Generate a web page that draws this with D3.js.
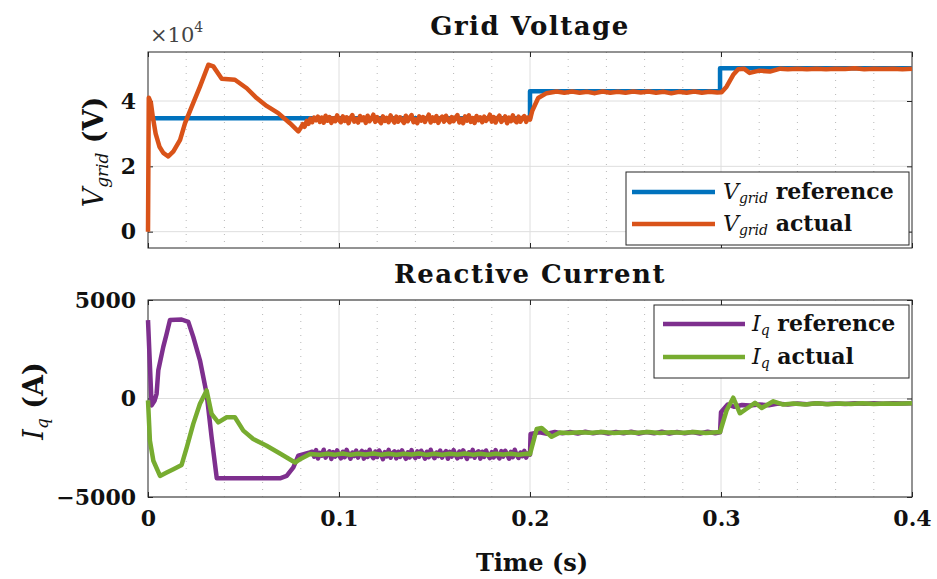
<!DOCTYPE html>
<html>
<head>
<meta charset="utf-8">
<script src="https://cdn.jsdelivr.net/npm/d3@7"></script>
<style>
  body { margin: 0; background: #fff; }
  svg { display: block; }
  text { font-family: "DejaVu Serif", serif; }
</style>
</head>
<body>
<svg id="fig" width="937" height="579"></svg>
<script>
// ---- data (time in s, voltage in V, current in A) ----
var vReference = [[0, 34700], [0.2, 34700], [0.2, 43000], [0.2995, 43000], [0.2995, 50000], [0.4, 50000]];

var vActual = [
  [0, 0], [0.0004, 41000], [0.0015, 39500], [0.0025, 35200], [0.004, 30000], [0.006, 26000],
  [0.008, 24100], [0.0106, 23000], [0.0133, 24600], [0.0168, 28100], [0.0194, 33200], [0.0237, 39400],
  [0.0272, 44400], [0.0316, 51100], [0.0342, 50600], [0.0386, 46800], [0.0455, 46500], [0.0517, 43900],
  [0.0569, 40900], [0.0621, 38500], [0.0682, 36300], [0.0743, 33200], [0.0787, 30700], [0.080, 31800],
  [0.081, 32900], [0.082, 32100], [0.0831, 33900], [0.084, 33000], [0.085, 34600], [0.086, 33500], [0.087, 34900],
  [0.088, 34100], [0.089, 35200], [0.090, 33600], [0.091, 34900], [0.092, 33400], [0.093, 35500], [0.094, 34000], [0.095, 35100], [0.096, 33300], [0.097, 34700],
  [0.098, 33800], [0.099, 35600], [0.100, 34200], [0.101, 33500], [0.102, 35300], [0.103, 33900], [0.104, 35000], [0.105, 33200], [0.106, 34800], [0.107, 35700],
  [0.108, 33700], [0.109, 34500], [0.110, 33400], [0.111, 35400], [0.112, 34100], [0.113, 35000], [0.114, 33300], [0.115, 35500], [0.116, 33800], [0.117, 34600],
  [0.118, 35800], [0.119, 33600], [0.120, 35100], [0.121, 34000], [0.122, 33200], [0.123, 35300], [0.124, 33900], [0.125, 34800], [0.126, 33500], [0.127, 35600],
  [0.128, 34300], [0.129, 33400], [0.130, 35200], [0.131, 33700], [0.132, 35000], [0.133, 34100], [0.134, 33300], [0.135, 35500], [0.136, 33800], [0.137, 34900],
  [0.138, 35700], [0.139, 33500], [0.140, 34400], [0.141, 33200], [0.142, 35300], [0.143, 34000], [0.144, 35100], [0.145, 33600], [0.146, 34700], [0.147, 35800],
  [0.148, 33400], [0.149, 35000], [0.150, 33900], [0.151, 35400], [0.152, 33300], [0.153, 34600], [0.154, 35200], [0.155, 33700], [0.156, 35500], [0.157, 34200],
  [0.158, 33500], [0.159, 35100], [0.160, 33800], [0.161, 34900], [0.162, 35700], [0.163, 33400], [0.164, 34500], [0.165, 33200], [0.166, 35300], [0.167, 34000],
  [0.168, 35600], [0.169, 33600], [0.170, 34800], [0.171, 33300], [0.172, 35400], [0.173, 34100], [0.174, 35000], [0.175, 33500], [0.176, 35200], [0.177, 33900],
  [0.178, 34600], [0.179, 35800], [0.180, 33700], [0.181, 35100], [0.182, 33400], [0.183, 34700], [0.184, 35500], [0.185, 33600], [0.186, 34300], [0.187, 35300],
  [0.188, 33200], [0.189, 34900], [0.190, 33800], [0.191, 35600], [0.192, 34000], [0.193, 33500], [0.194, 35200], [0.195, 33700], [0.196, 34800], [0.197, 35400],
  [0.198, 33600], [0.199, 34900], [0.2, 34300],
  [0.2012, 37000], [0.2043, 40900], [0.2087, 42400], [0.214, 42900],
  [0.218, 42500], [0.222, 42900], [0.226, 42500], [0.230, 42800], [0.234, 42400], [0.238, 42900],
  [0.242, 42500], [0.246, 42800], [0.250, 42500], [0.254, 42900], [0.258, 42600], [0.262, 42900],
  [0.266, 42500], [0.270, 42800], [0.274, 42400], [0.278, 42800], [0.282, 42500], [0.286, 42900],
  [0.290, 42500], [0.294, 42800], [0.298, 42600],
  [0.3003, 42700], [0.3029, 44400], [0.3064, 48000], [0.309, 49700], [0.312, 49900], [0.315, 48600],
  [0.32, 49300], [0.3256, 49000], [0.331, 49900],
  [0.335, 49700], [0.340, 49900], [0.345, 49700], [0.350, 49900], [0.355, 49700], [0.360, 49900],
  [0.365, 49800], [0.370, 50000], [0.375, 49700], [0.380, 49900], [0.385, 49800], [0.390, 49900],
  [0.395, 49700], [0.4, 49900]
];

var iqReference = [
  [0, 3980], [0.0019, -350], [0.0035, -100], [0.0045, 240], [0.0054, 1430], [0.008, 2620],
  [0.0098, 3300], [0.0115, 3980], [0.0176, 4010], [0.0211, 3890], [0.0237, 3130], [0.0272, 1940],
  [0.0307, 240], [0.0333, -1970], [0.036, -4050], [0.0691, -4050], [0.0726, -3930], [0.0761, -3500],
  [0.0787, -2900], [0.0848, -2740],
  [0.086, -2700], [0.087, -2950], [0.088, -2620], [0.089, -3050], [0.090, -2760], [0.091, -2900], [0.092, -2600], [0.093, -3000], [0.094, -2800], [0.095, -2680],
  [0.096, -3070], [0.097, -2720], [0.098, -2950], [0.099, -2630], [0.100, -2880], [0.101, -3040], [0.102, -2700], [0.103, -2980], [0.104, -2610], [0.105, -2850],
  [0.106, -3060], [0.107, -2740], [0.108, -2920], [0.109, -2640], [0.110, -3000], [0.111, -2780], [0.112, -2660], [0.113, -3050], [0.114, -2710], [0.115, -2960],
  [0.116, -2600], [0.117, -2890], [0.118, -3030], [0.119, -2690], [0.120, -2970], [0.121, -2640], [0.122, -2830], [0.123, -3080], [0.124, -2720], [0.125, -2940],
  [0.126, -2610], [0.127, -3010], [0.128, -2770], [0.129, -2680], [0.130, -3040], [0.131, -2700], [0.132, -2960], [0.133, -2630], [0.134, -2870], [0.135, -3060],
  [0.136, -2730], [0.137, -2990], [0.138, -2620], [0.139, -2900], [0.140, -3020], [0.141, -2680], [0.142, -2950], [0.143, -2650], [0.144, -2810], [0.145, -3050],
  [0.146, -2700], [0.147, -2980], [0.148, -2600], [0.149, -2880], [0.150, -3030], [0.151, -2740], [0.152, -2920], [0.153, -2640], [0.154, -3000], [0.155, -2790],
  [0.156, -2670], [0.157, -3060], [0.158, -2710], [0.159, -2950], [0.160, -2620], [0.161, -2860], [0.162, -3040], [0.163, -2690], [0.164, -2970], [0.165, -2630],
  [0.166, -2840], [0.167, -3070], [0.168, -2730], [0.169, -2930], [0.170, -2610], [0.171, -3010], [0.172, -2760], [0.173, -2680], [0.174, -3050], [0.175, -2700],
  [0.176, -2960], [0.177, -2640], [0.178, -2880], [0.179, -3030], [0.180, -2720], [0.181, -2990], [0.182, -2620], [0.183, -2900], [0.184, -3040], [0.185, -2670],
  [0.186, -2950], [0.187, -2650], [0.188, -2820], [0.189, -3060], [0.190, -2710], [0.191, -2980], [0.192, -2600], [0.193, -2870], [0.194, -3020], [0.195, -2740],
  [0.196, -2930], [0.197, -2660], [0.198, -3000], [0.199, -2780], [0.2, -2850],
  [0.2003, -1800], [0.205, -1710], [0.209, -1790], [0.213, -1700], [0.217, -1770], [0.221, -1700],
  [0.225, -1780], [0.229, -1690], [0.233, -1770], [0.237, -1700], [0.241, -1780], [0.245, -1700],
  [0.249, -1760], [0.253, -1690], [0.257, -1780], [0.261, -1700], [0.265, -1770], [0.269, -1690],
  [0.273, -1780], [0.277, -1700], [0.281, -1770], [0.285, -1700], [0.289, -1780], [0.293, -1690],
  [0.297, -1760], [0.2995, -1720],
  [0.3, -700], [0.3035, -300], [0.307, -420], [0.311, -330], [0.315, -350], [0.32, -300],
  [0.325, -340], [0.33, -260], [0.335, -300], [0.34, -250], [0.345, -290], [0.35, -240],
  [0.355, -280], [0.36, -250], [0.365, -280], [0.37, -240], [0.375, -270], [0.38, -240],
  [0.385, -270], [0.39, -240], [0.395, -260], [0.4, -240]
];

var iqActual = [
  [0, -100], [0.001, -2140], [0.0028, -3160], [0.0063, -3930], [0.0098, -3760], [0.0133, -3590],
  [0.0176, -3370], [0.0203, -2480], [0.0237, -1290], [0.0272, -270], [0.0307, 410], [0.0333, -780],
  [0.0368, -1210], [0.0412, -950], [0.0455, -950], [0.0499, -1630], [0.0551, -2060], [0.0621, -2400],
  [0.0691, -2790], [0.0761, -3200], [0.077, -3250], [0.0796, -3080], [0.0848, -2820],
  [0.090, -2860], [0.094, -2800], [0.098, -2850], [0.102, -2790], [0.106, -2860], [0.110, -2800],
  [0.114, -2840], [0.118, -2790], [0.122, -2850], [0.126, -2800], [0.130, -2860], [0.134, -2800],
  [0.138, -2840], [0.142, -2790], [0.146, -2860], [0.150, -2800], [0.154, -2850], [0.158, -2800],
  [0.162, -2840], [0.166, -2790], [0.170, -2850], [0.174, -2800], [0.178, -2860], [0.182, -2800],
  [0.186, -2840], [0.190, -2800], [0.194, -2850], [0.198, -2810], [0.2, -2830],
  [0.2035, -1550], [0.2061, -1500], [0.2113, -1940], [0.2157, -1720],
  [0.22, -1750], [0.226, -1710], [0.232, -1740], [0.238, -1700], [0.244, -1750], [0.250, -1710],
  [0.256, -1740], [0.262, -1700], [0.268, -1750], [0.274, -1710], [0.280, -1740], [0.286, -1700],
  [0.292, -1750], [0.2995, -1700],
  [0.3029, -610], [0.3064, 40], [0.3099, -750], [0.3134, -520], [0.3178, -220], [0.3213, -480],
  [0.3274, -140], [0.3326, -310], [0.338, -250], [0.344, -300], [0.35, -240], [0.356, -290],
  [0.362, -250], [0.368, -280], [0.374, -240], [0.38, -280], [0.386, -250], [0.392, -270], [0.4, -240]
];

var timeTicks = [0, 0.1, 0.2, 0.3, 0.4];
var timeMinorTicks = [0.02, 0.04, 0.06, 0.08, 0.12, 0.14, 0.16, 0.18, 0.22, 0.24, 0.26, 0.28, 0.32, 0.34, 0.36, 0.38];
var vTicks = [0, 20000, 40000];
var iqTicks = [-5000, 0, 5000];

// ---- layout ----
var svg = d3.select('#fig');
var left = 148, right = 912;
var axisColor = '#262626';

var x = d3.scaleLinear().domain([0, 0.4]).range([left, right]);
var yV = d3.scaleLinear().domain([-5000, 55000]).range([248, 52]);
var yI = d3.scaleLinear().domain([-5000, 5000]).range([497, 300]);

function drawPanel(y, opts) {
  var top = y.range()[1], bottom = y.range()[0];
  var g = svg.append('g');

  // minor dotted grid (time only)
  g.selectAll('line.minor').data(timeMinorTicks).enter().append('line')
    .attr('x1', d => x(d)).attr('x2', d => x(d))
    .attr('y1', top).attr('y2', bottom)
    .attr('stroke', '#b8b8b8').attr('stroke-width', 1)
    .attr('stroke-dasharray', '1,6');

  // major grid
  g.selectAll('line.vmaj').data(timeTicks.slice(1, -1)).enter().append('line')
    .attr('x1', d => x(d)).attr('x2', d => x(d))
    .attr('y1', top).attr('y2', bottom)
    .attr('stroke', '#dedede').attr('stroke-width', 1);
  g.selectAll('line.hmaj').data(opts.yTicks).enter().append('line')
    .attr('x1', left).attr('x2', right)
    .attr('y1', d => y(d)).attr('y2', d => y(d))
    .attr('stroke', '#dedede').attr('stroke-width', 1);

  // ticks on all four sides, pointing in
  var ax = [
    d3.axisLeft(y).tickValues(opts.yTicks).tickFormat(opts.yFormat).tickSize(-5).tickPadding(12),
    d3.axisRight(y).tickValues(opts.yTicks).tickFormat('').tickSize(-5),
    d3.axisTop(x).tickValues(timeTicks).tickFormat('').tickSize(-5),
    d3.axisBottom(x).tickValues(timeTicks).tickFormat(opts.xLabels ? d3.format('') : '').tickSize(-5).tickPadding(13)
  ];
  var pos = ['translate(' + left + ',0)', 'translate(' + right + ',0)',
             'translate(0,' + top + ')', 'translate(0,' + bottom + ')'];
  ax.forEach(function(a, i) {
    var ag = g.append('g').attr('transform', pos[i]).call(a);
    ag.select('.domain').remove();
    ag.selectAll('line').attr('stroke', axisColor);
    ag.selectAll('text')
      .attr('font-family', '"DejaVu Serif", serif')
      .attr('font-weight', 'bold')
      .attr('font-size', 22)
      .attr('fill', '#111');
  });

  g.append('rect')
    .attr('x', left).attr('y', top)
    .attr('width', right - left).attr('height', bottom - top)
    .attr('fill', 'none').attr('stroke', axisColor).attr('stroke-width', 1);
  return g;
}

function drawLine(g, data, y, color) {
  var line = d3.line().x(d => x(d[0])).y(d => y(d[1]));
  g.append('path').datum(data)
    .attr('d', line)
    .attr('fill', 'none')
    .attr('stroke', color)
    .attr('stroke-width', 4.5)
    .attr('stroke-linejoin', 'round');
}

function drawLegend(lx, ly, w, h, items, lineX0, lineX1, textX) {
  var g = svg.append('g');
  g.append('rect').attr('x', lx).attr('y', ly).attr('width', w).attr('height', h)
    .attr('fill', '#fff').attr('stroke', axisColor).attr('stroke-width', 1);
  items.forEach(function(it) {
    g.append('line').attr('x1', lineX0).attr('x2', lineX1)
      .attr('y1', it.y).attr('y2', it.y)
      .attr('stroke', it.color).attr('stroke-width', 4.5);
    var t = g.append('text').attr('x', textX).attr('y', it.y + 7).attr('font-size', 22).attr('fill', '#111');
    t.append('tspan').attr('font-style', 'italic').text(it.sym);
    t.append('tspan').attr('font-style', 'italic').attr('font-size', 14).attr('dy', 4).text(it.sub);
    t.append('tspan').attr('font-weight', 'bold').attr('dy', -4).text(' ' + it.label);
  });
}

// ---- top panel ----
var gTop = drawPanel(yV, { yTicks: vTicks, yFormat: d => d / 1e4, xLabels: false });
drawLine(gTop, vReference, yV, '#0072BD');
drawLine(gTop, vActual, yV, '#D95319');

svg.append('text').attr('x', 530).attr('y', 35).attr('text-anchor', 'middle')
  .attr('font-weight', 'bold').attr('font-size', 26).attr('letter-spacing', 1.5)
  .attr('fill', '#111').text('Grid Voltage');

var mult = svg.append('text').attr('x', 150).attr('y', 42).attr('font-size', 21).attr('fill', '#444');
mult.append('tspan').text('×10');
mult.append('tspan').attr('font-size', 14).attr('dy', -10).text('4');

var yl1 = svg.append('text').attr('transform', 'translate(103,152) rotate(-90)')
  .attr('text-anchor', 'middle').attr('font-size', 27).attr('fill', '#111');
yl1.append('tspan').attr('font-style', 'italic').text('V');
yl1.append('tspan').attr('font-style', 'italic').attr('font-size', 17).attr('dy', 5).text('grid');
yl1.append('tspan').attr('font-weight', 'bold').attr('dy', -5).text(' (V)');

drawLegend(626, 172, 283, 73, [
  { y: 192, color: '#0072BD', sym: 'V', sub: 'grid', label: 'reference' },
  { y: 224, color: '#D95319', sym: 'V', sub: 'grid', label: 'actual' }
], 632, 715, 723);

// ---- bottom panel ----
var gBot = drawPanel(yI, { yTicks: iqTicks, yFormat: d3.format('d'), xLabels: true });
drawLine(gBot, iqReference, yI, '#7E2F8E');
drawLine(gBot, iqActual, yI, '#77AC30');

svg.append('text').attr('x', 530).attr('y', 283).attr('text-anchor', 'middle')
  .attr('font-weight', 'bold').attr('font-size', 26).attr('letter-spacing', 1.5)
  .attr('fill', '#111').text('Reactive Current');

var yl2 = svg.append('text').attr('transform', 'translate(43,401) rotate(-90)')
  .attr('text-anchor', 'middle').attr('font-size', 27).attr('fill', '#111');
yl2.append('tspan').attr('font-style', 'italic').text('I');
yl2.append('tspan').attr('font-style', 'italic').attr('font-size', 17).attr('dy', 5).text('q');
yl2.append('tspan').attr('font-weight', 'bold').attr('dy', -5).text(' (A)');

svg.append('text').attr('x', 532).attr('y', 571).attr('text-anchor', 'middle')
  .attr('font-weight', 'bold').attr('font-size', 24).attr('fill', '#111').text('Time (s)');

drawLegend(654, 305, 255, 73, [
  { y: 324, color: '#7E2F8E', sym: 'I', sub: 'q', label: 'reference' },
  { y: 357, color: '#77AC30', sym: 'I', sub: 'q', label: 'actual' }
], 663, 745, 752);
</script>
</body>
</html>
